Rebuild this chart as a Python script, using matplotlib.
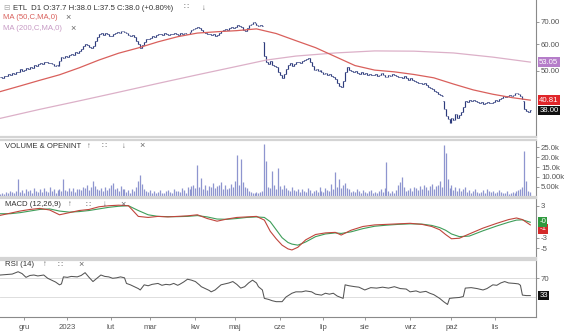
import numpy as np
import pandas as pd
import matplotlib
matplotlib.use("Agg")
import matplotlib.pyplot as plt
import matplotlib.transforms as mtrans

plt.rcParams['font.family'] = ['Liberation Sans', 'DejaVu Sans']

# ---------------- data ----------------
start_date = "2022-11-15"
closes = [
    48.0, 47.6, 48.3, 48.1, 48.8, 48.5, 49.2, 48.9, 49.5, 49.7,
    50.5, 49.9, 50.3, 51.0, 50.6, 51.4, 51.0, 52.0, 51.6, 52.3,
    52.8, 52.2, 53.1, 53.0, 52.6, 52.9, 52.3, 51.8, 52.0, 51.5,
    53.5, 55.0, 54.6, 55.3, 55.0, 55.8, 56.2, 55.7, 56.9, 56.5,
    57.3, 58.0, 59.2, 60.0, 59.6, 59.0, 58.6, 59.3, 61.5, 63.0,
    64.2, 65.0, 64.1, 64.8, 64.3, 63.6, 63.5, 64.4, 64.9, 65.3,
    65.0, 65.6, 65.9, 65.2, 64.8, 64.0, 63.5, 64.1, 63.0, 61.5,
    60.0, 58.4, 59.8, 61.0, 62.3, 62.0, 62.8, 63.3, 63.0, 63.9,
    64.2, 64.6, 64.0, 64.8, 64.5, 63.9, 64.6, 64.3, 64.9, 64.4,
    64.0, 64.7, 64.2, 64.9, 64.3, 64.6, 65.4, 66.0, 66.8, 67.0,
    67.4, 66.9, 66.0, 65.5, 65.0, 64.3, 64.6, 63.9, 64.2, 63.5,
    64.0, 64.8, 65.6, 66.2, 66.7, 66.3, 67.0, 67.4, 67.1, 67.8,
    68.3, 68.2, 67.5, 66.4, 65.9, 67.2, 68.4, 69.1, 70.0, 69.3,
    68.6, 68.0, 68.5, 68.2, 55.5, 53.0, 52.5, 53.4, 52.0, 51.6,
    51.3, 49.5, 48.6, 47.5, 48.8, 50.6, 52.0, 52.6, 51.8, 52.4,
    53.2, 53.0, 52.6, 53.5, 53.9, 54.2, 54.5, 53.2, 51.6, 50.2,
    50.6, 49.8, 50.1, 49.4, 49.0, 49.3, 48.6, 48.9, 48.2, 48.0,
    47.2, 46.0, 45.0, 44.7, 46.5, 49.5, 51.3, 50.4, 50.0, 49.6,
    49.8, 49.3, 49.0, 49.4, 48.8, 49.2, 48.6, 49.0, 48.7, 48.4,
    48.9, 48.2, 48.6, 49.1, 48.5, 48.0, 48.0, 48.6, 48.3, 48.9,
    48.5, 48.2, 48.0, 48.0, 47.6, 48.1, 47.4, 47.0, 47.5, 46.8,
    46.7, 46.3, 46.0, 45.8, 45.5, 45.9, 45.2, 44.7, 44.5, 44.0,
    43.6, 43.1, 42.7, 42.4, 42.0, 38.5, 36.5, 35.8, 34.8, 36.2,
    35.5, 37.0, 36.0, 36.9, 37.5, 38.8, 40.6, 40.2, 40.8, 40.5,
    40.9, 40.6, 40.2, 39.9, 40.3, 39.8, 40.0, 40.4, 40.1, 40.0,
    40.4, 40.8, 40.6, 41.0, 41.3, 42.0, 41.6, 41.9, 42.2, 42.0,
    42.4, 42.8, 43.0, 42.6, 42.0, 41.0, 38.4, 37.9, 37.7, 38.0,
]
gap_opens = {134: 61.0, 225: 40.5, 266: 40.6}

volume_k = [
    1.5, 2.0, 1.2, 2.5, 1.8, 3.0, 2.2, 1.6, 2.8, 9.0,
    2.5, 3.2, 1.8, 4.0, 2.6, 3.5, 2.0, 4.2, 3.0, 2.4,
    3.8, 2.2, 4.5, 3.0, 2.5, 4.8, 2.8, 3.6, 2.0, 3.2,
    4.0, 3.0, 9.0, 3.5, 2.6, 4.2, 3.0, 4.5, 2.4, 3.8,
    4.0, 3.2, 5.0, 4.2, 6.0, 3.5, 4.8, 8.0, 5.5, 4.0,
    3.2, 4.5, 2.8, 5.0, 3.5, 4.2, 6.0, 7.0, 3.8, 4.5,
    3.0, 5.2, 3.6, 4.0, 2.5, 3.2, 2.0, 4.0, 3.0, 5.0,
    8.0, 11.0, 6.5, 4.0, 3.0, 2.5, 3.5, 2.0, 2.8, 1.8,
    2.5, 3.2, 2.0, 1.6, 2.8, 3.5, 2.2, 1.8, 4.0, 2.6,
    3.0, 2.2, 4.5, 3.4, 2.0, 4.8, 3.6, 5.5, 6.0, 4.2,
    16.0, 5.0, 9.5, 4.0, 6.0, 3.5, 5.5, 4.8, 7.0, 4.5,
    5.2, 6.0, 7.5, 4.0, 5.8, 3.6, 4.5, 6.5, 5.0, 8.0,
    21.0, 6.0, 19.0, 7.5, 5.0, 4.2, 3.0, 2.5, 2.0, 1.8,
    2.5, 1.6, 2.2, 3.0, 27.0, 18.0, 5.0, 4.5, 13.0, 6.0,
    4.0, 14.5, 5.5, 3.8, 6.0, 4.2, 3.5, 2.8, 5.0, 3.2,
    2.6, 3.8, 2.2, 4.0, 3.0, 2.5, 4.5, 3.2, 2.0, 2.8,
    3.5, 2.4, 5.0, 3.0, 2.2, 4.2, 3.4, 2.6, 6.5, 4.0,
    12.5, 5.0, 9.0, 4.5, 6.0, 7.0, 4.2, 3.8, 2.5, 3.0,
    2.2, 3.6, 2.8, 2.0, 3.2, 2.5, 1.8, 2.6, 3.4, 2.0,
    2.4, 1.6, 2.8, 3.6, 2.2, 4.5, 17.5, 3.0, 2.0, 2.6,
    1.8, 3.4, 6.0, 7.5, 10.0, 5.0, 2.8, 3.5, 4.5, 3.0,
    5.0, 4.2, 3.2, 5.5, 4.0, 6.0, 4.8, 3.5, 5.2, 6.5,
    4.0, 5.5, 6.0, 8.0, 5.0, 26.0, 22.0, 9.0, 4.5, 6.0,
    3.5, 5.0, 3.0, 4.2, 2.8, 3.6, 4.8, 2.5, 3.2, 2.0,
    2.6, 3.8, 2.2, 1.8, 2.5, 3.4, 2.0, 4.0, 2.8, 2.2,
    3.0, 1.8, 2.5, 3.5, 2.2, 1.6, 2.0, 2.8, 1.5, 1.9,
    2.4, 1.8, 2.6, 3.5, 4.0, 5.0, 23.0, 8.0, 3.0, 2.2,
]

ma50_idx = [0, 10, 20, 30, 40, 50, 60, 70, 80, 90, 100, 110, 120, 130, 140,
            150, 160, 170, 180, 190, 200, 210, 220, 230, 240, 250, 260, 269]
ma50_val = [43.3, 45.0, 46.8, 48.6, 51.0, 53.8, 56.4, 58.5, 61.0, 63.2, 64.8,
            65.4, 65.9, 66.7, 64.6, 61.5, 58.6, 55.1, 51.8, 50.2, 49.6, 48.7,
            47.6, 45.6, 43.8, 42.5, 41.5, 40.81]
ma200_idx = [0, 20, 40, 60, 80, 100, 120, 135, 150, 170, 190, 210, 230, 250, 269]
ma200_val = [36.0, 38.3, 40.6, 43.1, 45.8, 48.6, 51.5, 53.8, 55.3, 56.5, 57.3,
             57.2, 56.5, 54.9, 53.05]

macd_idx = [0, 5, 10, 15, 20, 25, 30, 35, 40, 45, 50, 55, 60, 65, 70, 75, 80,
            85, 90, 95, 100, 105, 110, 115, 120, 125, 130, 134, 137, 140, 143,
            146, 148, 151, 155, 160, 165, 170, 173, 178, 184, 190, 196, 202,
            208, 214, 219, 223, 226, 229, 233, 238, 245, 252, 258, 262, 265, 269]
macd_val = [1.2, 1.6, 2.0, 2.3, 2.5, 2.2, 1.3, 1.7, 2.1, 2.3, 2.8, 3.0, 3.1,
            3.0, 1.0, 0.8, 1.0, 0.9, 1.0, 1.1, 1.3, 0.6, 0.1, 0.5, 0.8, 0.9,
            1.0, 0.3, -1.8, -3.2, -4.4, -5.1, -5.3, -4.8, -3.4, -2.4, -2.1,
            -2.0, -2.5, -1.6, -0.9, -0.6, -0.5, -0.4, -0.3, -0.5, -0.9, -1.5,
            -2.4, -3.2, -3.1, -2.3, -1.2, -0.3, 0.4, 0.7, 0.4, -0.6]
signal_val = [1.5, 1.5, 1.7, 2.0, 2.3, 2.4, 2.0, 1.8, 1.9, 2.1, 2.4, 2.7, 2.9,
              3.0, 2.1, 1.3, 1.0, 0.95, 0.95, 1.0, 1.15, 0.9, 0.5, 0.45, 0.6,
              0.8, 0.9, 0.8, 0.0, -1.5, -3.0, -3.9, -4.2, -4.4, -3.8, -2.8,
              -2.3, -2.1, -2.2, -1.9, -1.3, -0.85, -0.65, -0.5, -0.4, -0.45,
              -0.7, -1.1, -1.6, -2.3, -2.8, -2.7, -1.7, -0.8, -0.1, 0.3, 0.35,
              -0.1]

rsi_idx = [0, 3, 6, 9, 11, 13, 15, 17, 19, 22, 24, 26, 28, 30, 31, 32, 34, 36,
           39, 41, 43, 45, 47, 49, 51, 53, 55, 57, 59, 61, 63, 64, 66, 68, 70,
           71, 73, 75, 77, 80, 82, 84, 86, 88, 90, 91, 93, 95, 97, 99, 101,
           102, 104, 106, 107, 109, 112, 114, 116, 118, 120, 122, 124, 126,
           128, 130, 131, 133, 134, 136, 138, 140, 143, 145, 148, 150, 153,
           155, 158, 160, 163, 165, 167, 169, 171, 174, 175, 177, 180, 182,
           185, 188, 191, 194, 197, 200, 203, 206, 208, 211, 213, 216, 218,
           220, 223, 225, 227, 228, 230, 233, 235, 236, 239, 242, 245, 247,
           250, 252, 254, 256, 258, 261, 263, 264, 265, 267, 269]
rsi_val = [77, 78, 79, 84, 80, 72, 76, 77, 75, 77, 70, 66, 62, 56, 58, 73, 72,
           74, 73, 76, 82, 72, 63, 70, 77, 74, 73, 70, 71, 73, 71, 59, 56, 52,
           48, 45, 56, 54, 57, 59, 55, 57, 56, 59, 55, 57, 62, 68, 66, 63, 56,
           52, 48, 44, 41, 45, 56, 58, 60, 63, 57, 49, 52, 60, 66, 60, 52, 45,
           27, 25, 22, 20, 20, 30, 38, 41, 41, 43, 41, 36, 34, 38, 36, 38, 32,
           27, 56, 54, 52, 51, 45, 50, 49, 51, 49, 52, 48, 47, 41, 43, 40, 42,
           38, 35, 27, 20, 14, 27, 28, 29, 31, 49, 50, 48, 45, 48, 56, 55, 60,
           63, 60, 59, 58, 55, 34, 33, 33]

month_labels = ["gru", "2023", "lut", "mar", "kw", "maj", "cze", "lip", "sie",
                "wrz", "paź", "lis"]
price_ticks = [50, 60, 70]
vol_ticks = [5, 10, 15, 20, 25]
vol_tick_labels = ["5.00k", "10.00k", "15.0k", "20.0k", "25.0k"]

# ---------------- figure ----------------
W, H = 564, 335
fig = plt.figure(figsize=(W / 100, H / 100), dpi=100)
RIGHT = 536


def add_ax(top, bottom):
    return fig.add_axes([0, 1 - bottom / H, RIGHT / W, (bottom - top) / H])


def ftext(xp, yp, s, **kw):
    fig.text(xp / W, 1 - yp / H, s, va="center", ha="left", **kw)


n = len(closes)
x = np.arange(n)
closes_a = np.array(closes)
dates = pd.bdate_range(start_date, periods=n)

XMIN, XMAX = -0.2, 271.9
AX_COL = "#8a8a8a"
SEP_COL = "#d4d4d4"
TXT_COL = "#555555"
FS = 5.6

ax_p = add_ax(0, 137)
ax_v = add_ax(140, 197)
ax_m = add_ax(198, 258)
ax_r = add_ax(260, 317)
axes = [ax_p, ax_v, ax_m, ax_r]

for a in axes:
    a.set_xlim(XMIN, XMAX)
    a.set_facecolor("white")
    a.spines["left"].set_visible(False)
    a.spines["right"].set_color(AX_COL)
    a.spines["right"].set_linewidth(0.8)
    a.spines["top"].set_color(SEP_COL)
    a.spines["top"].set_linewidth(1.6)
    a.spines["bottom"].set_color(SEP_COL)
    a.spines["bottom"].set_linewidth(1.6)
    a.yaxis.tick_right()
    a.tick_params(axis="y", direction="out", length=2, width=0.6, pad=1.5,
                  labelsize=FS, colors=AX_COL, labelcolor=TXT_COL)
    a.set_xticks([])
ax_p.spines["top"].set_visible(False)
ax_r.spines["bottom"].set_color(AX_COL)
ax_r.spines["bottom"].set_linewidth(0.8)


def blend(a):
    return mtrans.blended_transform_factory(a.transAxes, a.transData)


# ---- price panel ----
opens = np.concatenate([[closes_a[0]], closes_a[:-1]])
for k, v in gap_opens.items():
    opens[k] = v
hi = np.maximum(opens, closes_a)
lo = np.minimum(opens, closes_a)
bar_col = "#2d3b7c"
ax_p.vlines(x, lo, hi, color=bar_col, lw=0.85)
ax_p.hlines(opens, x - 0.45, x, color=bar_col, lw=0.6)
ax_p.hlines(closes_a, x, x + 0.45, color=bar_col, lw=0.6)
ax_p.plot(ma200_idx, ma200_val, color="#dcb0c8", lw=0.9)
ax_p.plot(ma50_idx, ma50_val, color="#d9605c", lw=0.9)
ax_p.set_yscale("log")
ax_p.set_ylim(31.65, 81.4)
ax_p.set_yticks(price_ticks)
ax_p.set_yticklabels([f"{t:.2f}" for t in price_ticks])
ax_p.minorticks_off()
ax_p.set_xlim(XMIN, XMAX)


def vbox(a, yv, s, fc, tc="white"):
    a.text(1.006, yv, s, transform=blend(a), fontsize=FS, color=tc,
           va="center", ha="left",
           bbox=dict(boxstyle="square,pad=0.18", fc=fc, ec="none"))


vbox(ax_p, ma200_val[-1], f"{ma200_val[-1]:.2f}", "#b57dc9")
vbox(ax_p, ma50_val[-1], f"{ma50_val[-1]:.2f}", "#e0262a")
vbox(ax_p, closes[-1], f"{closes[-1]:.2f}", "#111111")

# ---- volume panel ----
ax_v.vlines(x, 0, volume_k, color="#8e95cf", lw=0.9)
ax_v.set_ylim(-0.25, 28.8)
ax_v.set_yticks(vol_ticks)
ax_v.set_yticklabels(vol_tick_labels)

# ---- MACD panel ----
ax_m.plot(macd_idx, signal_val, color="#3f9e5a", lw=0.8)
ax_m.plot(macd_idx, macd_val, color="#c0453c", lw=0.8)
ax_m.set_ylim(-6.81, 4.45)
ax_m.set_yticks([3, -3, -5])
ax_m.set_yticklabels(["3", "-3", "-5"])
vbox(ax_m, -1.35, "-1", "#d42a2a")
vbox(ax_m, 0.0, "-0", "#2f9a3f")

# ---- RSI panel ----
ax_r.axhline(70, color="#d8d8d8", lw=0.6)
ax_r.axhline(30, color="#d8d8d8", lw=0.6)
ax_r.plot(rsi_idx, rsi_val, color="#555555", lw=0.75)
ax_r.set_ylim(-12.8, 109.1)
ax_r.set_yticks([70])
ax_r.set_yticklabels(["70"])
vbox(ax_r, rsi_val[-1], f"{rsi_val[-1]}", "#111111")

# month ticks
month_pos = []
s = pd.Series(np.arange(n), index=dates)
for per in pd.period_range("2022-12", "2023-11", freq="M"):
    sel = s[(dates.year == per.year) & (dates.month == per.month)]
    month_pos.append(int(sel.iloc[0]))
ax_r.set_xticks(month_pos)
ax_r.set_xticklabels(month_labels)
ax_r.tick_params(axis="x", direction="out", length=2, width=0.6, pad=3,
                 labelsize=FS, colors=AX_COL, labelcolor=TXT_COL)
ax_r.set_xlim(XMIN, XMAX)

# ---- header texts ----
ftext(3, 8, "⊟", fontsize=FS, color="#aaaaaa")
ftext(13, 8, "ETL  D1 O:37.7 H:38.0 L:37.5 C:38.0 (+0.80%)",
      fontsize=FS, color="#333333")
ftext(184, 8, "∷", fontsize=FS, color="#666666")
ftext(202, 8, "↓", fontsize=FS, color="#666666")
ftext(3, 17.5, "MA (50,C,MA,0)", fontsize=FS, color="#d9605c")
ftext(65, 17.5, "×", fontsize=FS + 1, color="#666666")
ftext(3, 28.5, "MA (200,C,MA,0)", fontsize=FS, color="#c79ac4")
ftext(70, 28.5, "×", fontsize=FS + 1, color="#666666")

ftext(5, 146, "VOLUME & OPENINT", fontsize=FS, color="#333333")
ftext(87, 146, "↑", fontsize=FS, color="#666666")
ftext(102, 146, "∷", fontsize=FS, color="#666666")
ftext(122, 146, "↓", fontsize=FS, color="#666666")
ftext(139, 146, "×", fontsize=FS + 1, color="#666666")

ftext(5, 205, "MACD (12,26,9)", fontsize=FS, color="#333333")
ftext(68, 205, "↑", fontsize=FS, color="#666666")
ftext(86, 205, "∷", fontsize=FS, color="#666666")
ftext(103, 205, "↓", fontsize=FS, color="#666666")
ftext(120, 205, "×", fontsize=FS + 1, color="#666666")

ftext(5, 265, "RSI (14)", fontsize=FS, color="#333333")
ftext(43, 265, "↑", fontsize=FS, color="#666666")
ftext(58, 265, "∷", fontsize=FS, color="#666666")
ftext(78, 265, "×", fontsize=FS + 1, color="#666666")

fig.savefig("out.png", dpi=100)
